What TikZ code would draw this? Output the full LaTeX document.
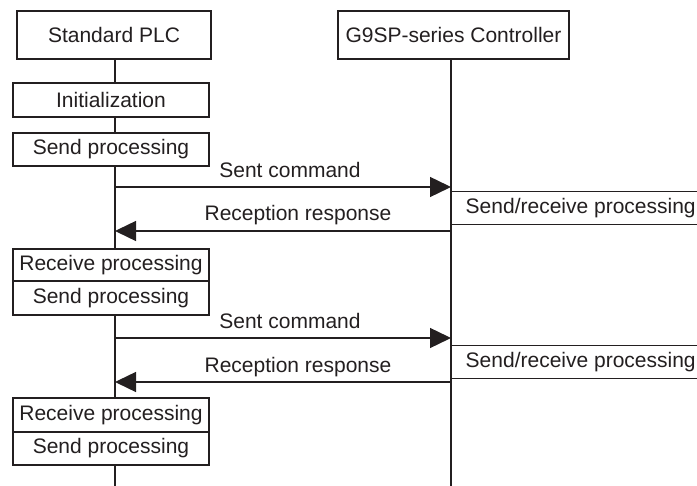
\documentclass[tikz,border=0pt]{standalone}
\usepackage{fontspec}
\setmainfont{Liberation Sans}
\usetikzlibrary{arrows.meta}
\begin{document}
\begin{tikzpicture}[x=1pt,y=-1pt,
  line width=1.4pt, draw={rgb,255:red,35;green,31;blue,32},
  every node/.style={font=\fontsize{21}{24}\selectfont, text={rgb,255:red,35;green,31;blue,32}, inner sep=0pt},
  boxnode/.style={draw, fill=white, minimum width=196pt, minimum height=#1, align=center},
  srbox/.style={fill=white, minimum width=246pt, minimum height=32pt},
  msg/.style={-{Triangle[length=21pt,width=20pt]}},
  lbl/.style={anchor=base}]
\useasboundingbox (0,0) rectangle (697,486);
% lifeline ends
\coordinate (plcEnd) at (115,486);
\coordinate (gEnd) at (451,486);
% heads
\node[boxnode=48pt, minimum width=194pt] (plc) at (114,35) {Standard PLC};
\node[boxnode=48pt, minimum width=231pt] (g9) at (453.5,35) {G9SP-series Controller};
% lifelines
\draw (plc.south -| plcEnd) -- (plcEnd);
\draw (g9.south -| gEnd) -- (gEnd);
% PLC boxes
\node[boxnode=34pt] (init) at (111,100) {Initialization};
\node[boxnode=33pt] (send1) at (111,149.5) {Send processing};
\node[boxnode=32pt] (recv1) at (111,265) {Receive processing};
\node[boxnode=34pt] (send2) at (111,298) {Send processing};
\node[boxnode=34pt] (recv2) at (111,415) {Receive processing};
\node[boxnode=33pt] (send3) at (111,448.5) {Send processing};
% controller boxes
\node[srbox, anchor=west] (sr1) at (451,208) {\hspace*{12pt}Send/receive processing\hfill};
\draw (sr1.north west) -- (sr1.north east);
\draw (sr1.south west) -- (sr1.south east);
\node[srbox, anchor=west] (sr2) at (451,362) {\hspace*{12pt}Send/receive processing\hfill};
\draw (sr2.north west) -- (sr2.north east);
\draw (sr2.south west) -- (sr2.south east);
% messages
\coordinate (pa1) at (115,187); \coordinate (ga1) at (451,187);
\coordinate (gb1) at (451,231); \coordinate (pb1) at (115,231);
\coordinate (pa2) at (115,338); \coordinate (ga2) at (451,338);
\coordinate (gb2) at (451,382); \coordinate (pb2) at (115,382);
\draw[msg] (pa1) -- (ga1);
\draw[msg] (gb1) -- (pb1);
\draw[msg] (pa2) -- (ga2);
\draw[msg] (gb2) -- (pb2);
\node[lbl] (l1) at (290,178) {Sent command};
\node[lbl] (l2) at (298,221) {Reception response};
\node[lbl] (l3) at (290,329) {Sent command};
\node[lbl] (l4) at (298,373) {Reception response};
\end{tikzpicture}
\end{document}
